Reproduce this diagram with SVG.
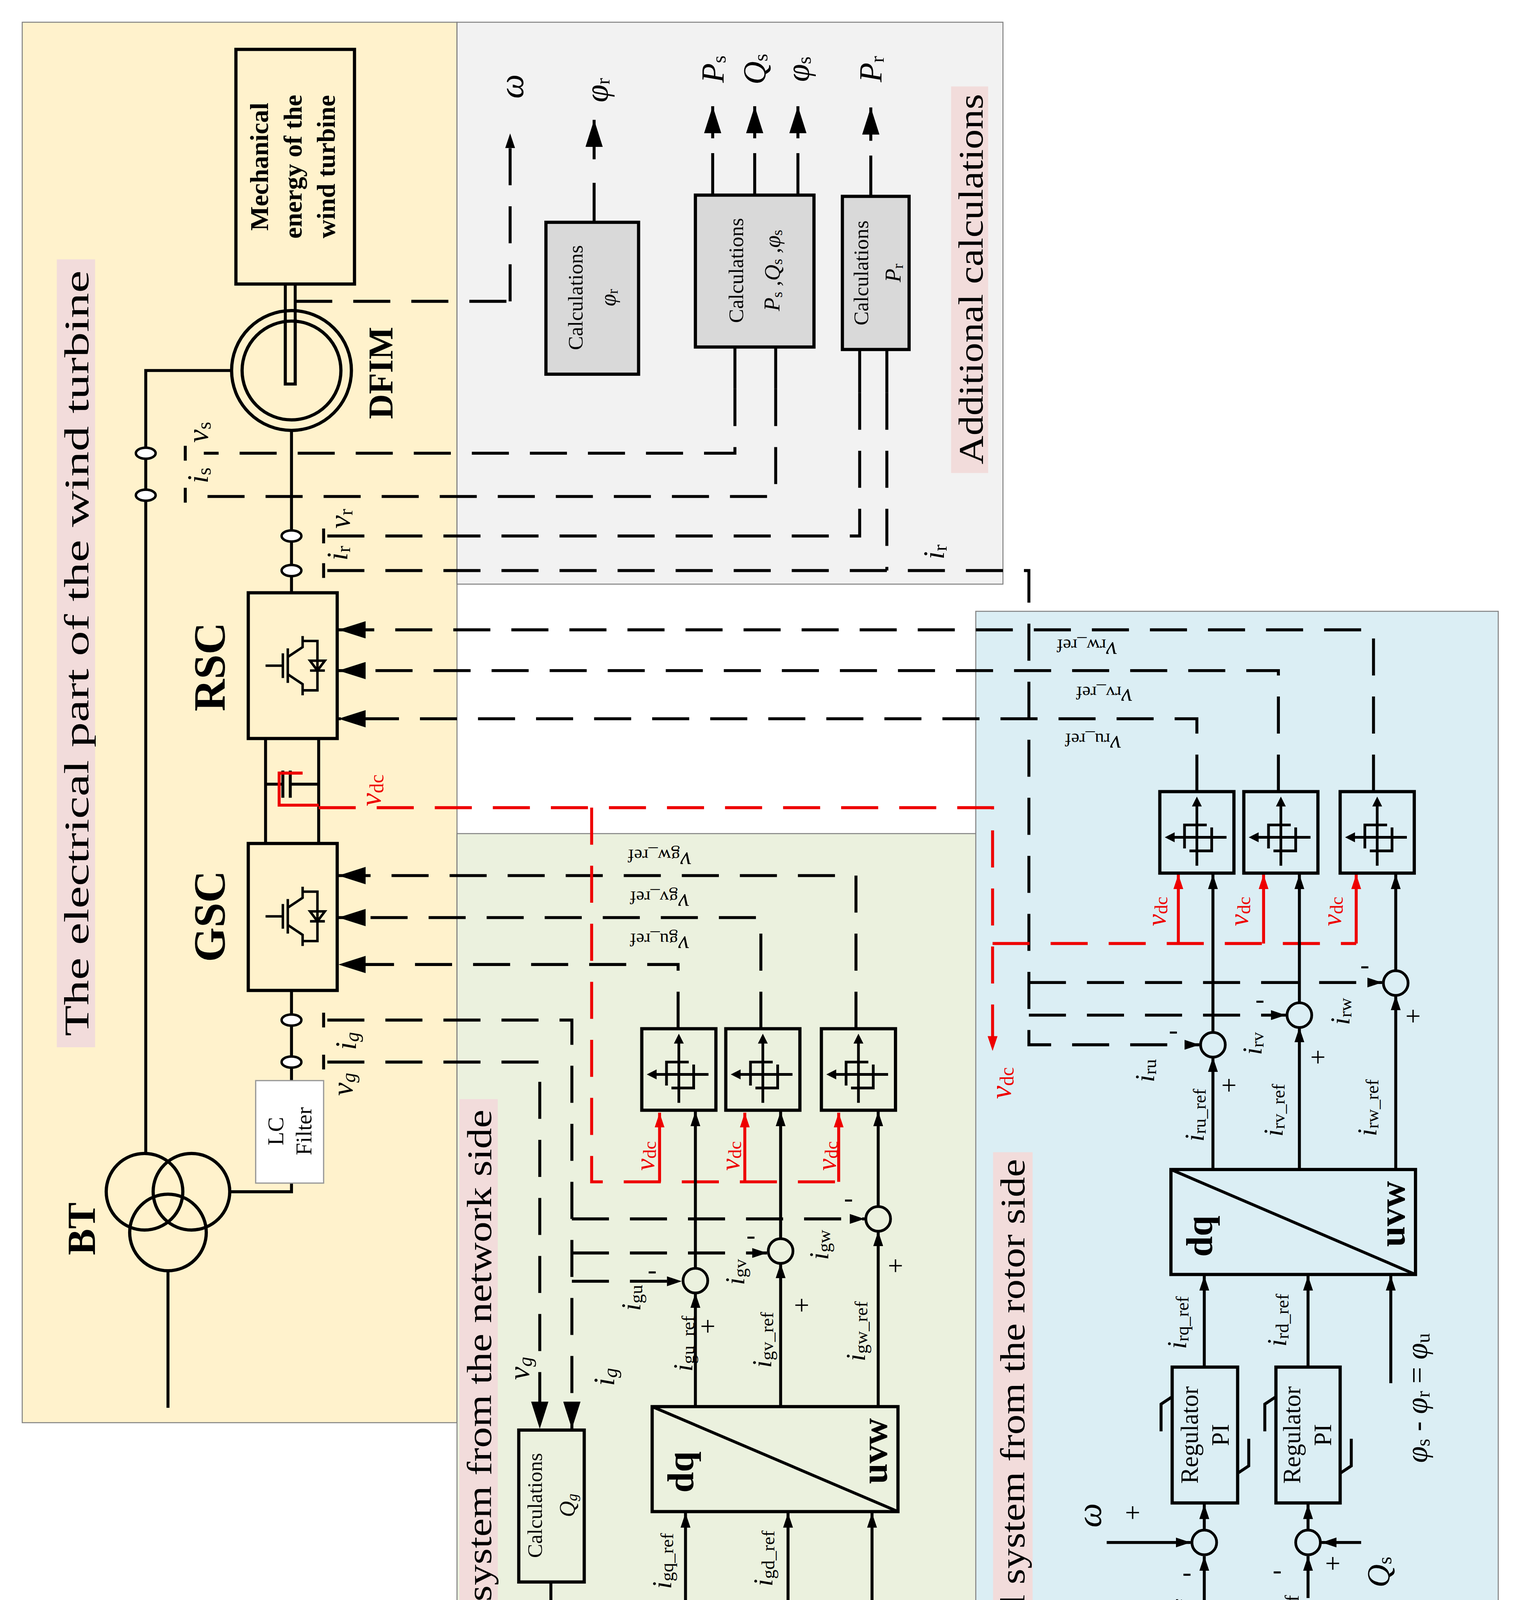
<svg xmlns="http://www.w3.org/2000/svg" width="3888" height="4958" viewBox="0 0 3888 4958">
<style>
.p{fill:none;stroke:#000;stroke-width:2.4}
.d{fill:none;stroke:#000;stroke-width:2.4;stroke-dasharray:30 17}
.rd{fill:none;stroke:#e00;stroke-width:2.4;stroke-dasharray:30 17}
.rs{fill:none;stroke:#e00;stroke-width:2.4}
.bx{fill:none;stroke:#000;stroke-width:2.6}
.gb{fill:#d9d9d9;stroke:#000;stroke-width:2.6}
.pan{stroke:#808080;stroke-width:0.8}
.t{font-family:"Liberation Serif",serif;text-anchor:middle;dominant-baseline:central;fill:#000}
.i{font-style:italic}
.b{font-weight:bold}
.red{fill:#e00}
.sum{fill:none;stroke:#000;stroke-width:2.2}
</style>
<defs>
<marker id="A" viewBox="0 0 22 14" refX="22" refY="7" markerWidth="22" markerHeight="14" markerUnits="userSpaceOnUse" orient="auto"><path d="M0,0 L22,7 L0,14z" fill="#000"/></marker>
<marker id="a" viewBox="0 0 12 8" refX="12" refY="4" markerWidth="12" markerHeight="8" markerUnits="userSpaceOnUse" orient="auto"><path d="M0,0 L12,4 L0,8z" fill="#000"/></marker>
<marker id="r" viewBox="0 0 12 8" refX="12" refY="4" markerWidth="12" markerHeight="8" markerUnits="userSpaceOnUse" orient="auto"><path d="M0,0 L12,4 L0,8z" fill="#e00"/></marker>
<g id="hys">
<rect x="0" y="0" width="60" height="66" fill="none" stroke="#000" stroke-width="2.6"/>
<path d="M30,60 V10 M54,37 H10 M20,46 V27 H38 M24,48 H42 V29" fill="none" stroke="#000" stroke-width="2.2"/>
<path d="M26,12 L30,4 L34,12z M12,33 L4,37 L12,41z" fill="#000"/>
</g>
<g id="igbt">
<path d="M-22,0 H-8 M-8,-10 V10 M-4,-14 V14 M-4,-7 L8,-15 V-24 M-4,7 L8,15 V24 M8,-20 H20 V20 H8 M14,-4 L20,4 L26,-4z M14,4 H26" fill="none" stroke="#000" stroke-width="2"/>
</g>
</defs>
<g transform="scale(3.1615)">
<g id="panels">
<rect class="pan" x="18" y="18" width="352" height="1134" fill="#fff2cc"/>
<rect class="pan" x="370" y="18" width="442" height="455" fill="#f2f2f2"/>
<rect class="pan" x="370" y="675" width="423" height="878" fill="#ebf1de"/>
<rect class="pan" x="790" y="495" width="423" height="1057" fill="#dbeef4"/>
<rect x="46" y="210" width="31" height="638" fill="#f2dcdb"/>
<rect x="770" y="70" width="30" height="313" fill="#f2dcdb"/>
<rect x="372" y="890" width="31" height="662" fill="#f2dcdb"/>
<rect x="804" y="933" width="32" height="597" fill="#f2dcdb"/>
<text class="t" font-size="28" textLength="620" lengthAdjust="spacingAndGlyphs" transform="translate(62,529) rotate(-90)">The electrical part of the wind turbine</text>
<text class="t" font-size="28" textLength="300" lengthAdjust="spacingAndGlyphs" transform="translate(786,226) rotate(-90)">Additional calculations</text>
<text class="t" font-size="28" textLength="645" lengthAdjust="spacingAndGlyphs" transform="translate(388,1221) rotate(-90)">Converter control system from the network side</text>
<text class="t" font-size="28" textLength="585" lengthAdjust="spacingAndGlyphs" transform="translate(820,1231) rotate(-90)">Converter control system from the rotor side</text>
</g>

<g id="connectors">
<!-- power circuit -->
<path class="p" d="M188,300 H118 V934 M236,349 V480 M215,598 V683 M258,598 V683 M236,802 V875 M236,958 V965 H186 M136,1029 V1140"/>
<path class="p" d="M231,230 V311 H239 V230"/>
<path class="p" d="M215,635 H229 M229,624 V646 M235,624 V646 M235,635 H258"/>
<path class="rs" d="M245,626 H226 V652 H258"/>
<!-- sensors -->
<ellipse cx="118" cy="367" rx="8" ry="4.5" fill="#fff" stroke="#000" stroke-width="2"/>
<ellipse cx="118" cy="401" rx="8" ry="4.5" fill="#fff" stroke="#000" stroke-width="2"/>
<ellipse cx="236" cy="434" rx="8" ry="4.5" fill="#fff" stroke="#000" stroke-width="2"/>
<ellipse cx="236" cy="462" rx="8" ry="4.5" fill="#fff" stroke="#000" stroke-width="2"/>
<ellipse cx="236" cy="826" rx="8" ry="4.5" fill="#fff" stroke="#000" stroke-width="2"/>
<ellipse cx="236" cy="860" rx="8" ry="4.5" fill="#fff" stroke="#000" stroke-width="2"/>
<path class="p" stroke-width="1.6" d="M150,361 V373 M150,395 V407 M262,428 V440 M262,456 V468 M262,820 V832 M262,854 V866"/>
<!-- additional calc -->
<path class="d" d="M239,244 H424"/>
<path class="d" d="M413,244 V108" marker-end="url(#a)"/>
<path class="p" d="M481,180 V148"/><path class="p" d="M481,129 V97" marker-end="url(#A)"/>
<path class="p" d="M577,158 V124 M611,158 V124 M646,158 V124 M705,159 V126"/>
<path class="p" d="M577,112 V86" marker-end="url(#A)"/>
<path class="p" d="M611,112 V86" marker-end="url(#A)"/>
<path class="p" d="M646,112 V86" marker-end="url(#A)"/>
<path class="p" d="M705,114 V87" marker-end="url(#A)"/>
<path class="p" d="M595,281 V315 M628,281 V315 M696,283 V318 M718,283 V318"/>
<path class="d" d="M595,315 V367 H165 M628,315 V402 H165 M696,318 V434 H265 M718,318 V462"/>
<path class="d" d="M265,462 H833 V846 H971" marker-end="url(#a)"/>
<path class="d" d="M833,795.6 H1119" marker-end="url(#a)"/>
<path class="d" d="M833,822 H1041" marker-end="url(#a)"/>
<!-- RSC inputs -->
<path class="d" d="M969,641 V582 H274" marker-end="url(#A)"/>
<path class="d" d="M1035,641 V543 H274" marker-end="url(#A)"/>
<path class="d" d="M1112,641 V510 H274" marker-end="url(#A)"/>
<!-- GSC inputs -->
<path class="d" d="M549,833 V781 H274" marker-end="url(#A)"/>
<path class="d" d="M616,833 V743 H274" marker-end="url(#A)"/>
<path class="d" d="M693,833 V709 H274" marker-end="url(#A)"/>
<!-- grid sensors -->
<path class="d" d="M265,826 H463 V1157" marker-end="url(#A)"/>
<path class="d" d="M265,860 H437 V1157" marker-end="url(#A)"/>
<path class="d" d="M463,987 H700" marker-end="url(#a)"/>
<path class="d" d="M463,1014.6 H621" marker-end="url(#a)"/>
<path class="d" d="M463,1037.5 H552" marker-end="url(#a)"/>
<!-- red vdc -->
<path class="rd" d="M258,654 H803.6 V851" marker-end="url(#r)"/>
<path class="rd" d="M479,654 V957 H679"/>
<path class="rs" d="M534,957 V901" marker-end="url(#r)"/>
<path class="rs" d="M603,957 V901" marker-end="url(#r)"/>
<path class="rs" d="M679,957 V901" marker-end="url(#r)"/>
<path class="rd" d="M803.6,764 H1098"/>
<path class="rs" d="M954,764 V708" marker-end="url(#r)"/>
<path class="rs" d="M1023,764 V708" marker-end="url(#r)"/>
<path class="rs" d="M1098,764 V708" marker-end="url(#r)"/>
<!-- green signal chain -->
<path class="p" d="M563,1027 V900" marker-end="url(#a)"/>
<path class="p" d="M632,1003 V900" marker-end="url(#a)"/>
<path class="p" d="M711,977 V900" marker-end="url(#a)"/>
<path class="p" d="M563,1139 V1047" marker-end="url(#a)"/>
<path class="p" d="M632,1139 V1023" marker-end="url(#a)"/>
<path class="p" d="M711,1139 V997" marker-end="url(#a)"/>
<path class="p" d="M555,1300 V1225" marker-end="url(#a)"/>
<path class="p" d="M638,1300 V1225" marker-end="url(#a)"/>
<path class="p" d="M706,1314 V1225" marker-end="url(#a)"/>
<path class="p" d="M555,1431 V1411" marker-end="url(#a)"/>
<path class="p" d="M638,1431 V1411" marker-end="url(#a)"/>
<path class="p" d="M555,1487 V1451" marker-end="url(#a)"/>
<path class="p" d="M638,1487 V1451" marker-end="url(#a)"/>
<path class="p" d="M598,1441 H565" marker-end="url(#a)"/>
<path class="p" d="M681,1441 H648" marker-end="url(#a)"/>
<path class="p" d="M446,1281 V1314"/><path class="p" d="M446,1331 V1390" marker-end="url(#A)"/>
<!-- rotor signal chain -->
<path class="p" d="M982,836 V708" marker-end="url(#a)"/>
<path class="p" d="M1052,812 V708" marker-end="url(#a)"/>
<path class="p" d="M1130,786 V708" marker-end="url(#a)"/>
<path class="p" d="M982,947 V856" marker-end="url(#a)"/>
<path class="p" d="M1052,947 V832" marker-end="url(#a)"/>
<path class="p" d="M1130,947 V806" marker-end="url(#a)"/>
<path class="p" d="M975,1107 V1033" marker-end="url(#a)"/>
<path class="p" d="M1059,1107 V1033" marker-end="url(#a)"/>
<path class="p" d="M1126,1120 V1033" marker-end="url(#a)"/>
<path class="p" d="M975,1239 V1218" marker-end="url(#a)"/>
<path class="p" d="M1059,1239 V1218" marker-end="url(#a)"/>
<path class="p" d="M975,1359 V1260" marker-end="url(#a)"/>
<path class="p" d="M1059,1294 V1260" marker-end="url(#a)"/>
<path class="p" d="M896,1249 H964" marker-end="url(#a)"/>
<path class="p" d="M1102,1249 H1070" marker-end="url(#a)"/>
<path class="p" d="M975,1541 V1470" marker-end="url(#a)"/>
</g>

<g id="mech"><rect class="bx" x="191" y="40" width="96" height="190" fill="none"/>
<text class="t b" font-size="21" transform="translate(210,135) rotate(-90)">Mechanical</text>
<text class="t b" font-size="21" transform="translate(237,135) rotate(-90)">energy of the</text>
<text class="t b" font-size="21" transform="translate(264,135) rotate(-90)">wind turbine</text></g>

<g id="dfim"><circle cx="236" cy="300" r="48.5" fill="none" stroke="#000" stroke-width="2.6"/>
<circle cx="236" cy="300" r="40" fill="none" stroke="#000" stroke-width="2.6"/>
<path class="p" d="M231,258 V311 H239 V258"/>
<text class="t b" font-size="28" transform="translate(308,302) rotate(-90)">DFIM</text></g>

<g id="rsc"><rect class="bx" x="201" y="480" width="72" height="118"/>
<use href="#igbt" transform="translate(237,539)"/>
<text class="t b" font-size="36" transform="translate(170,540) rotate(-90)">RSC</text></g>
<g id="gsc"><rect class="bx" x="201" y="683" width="72" height="119"/>
<use href="#igbt" transform="translate(237,742)"/>
<text class="t b" font-size="36" transform="translate(170,742) rotate(-90)">GSC</text></g>

<g id="filter"><rect x="207" y="875" width="55" height="83" fill="#fff" stroke="#999" stroke-width="1"/>
<text class="t" font-size="18" transform="translate(223,916) rotate(-90)">LC</text>
<text class="t" font-size="18" transform="translate(246,916) rotate(-90)">Filter</text></g>

<g id="bt"><circle cx="117" cy="965" r="31" class="bx"/><circle cx="155" cy="965" r="31" class="bx"/><circle cx="136" cy="998" r="31" class="bx"/>
<text class="t b" font-size="32" transform="translate(66,995) rotate(-90)">BT</text></g>

<g id="labels-left">
<text class="t i" font-size="24" transform="translate(160,350) rotate(-90)">v<tspan font-style="normal" font-size="16" dy="5">s</tspan></text>
<text class="t i" font-size="24" transform="translate(160,385) rotate(-90)">i<tspan font-style="normal" font-size="16" dy="5">s</tspan></text>
<text class="t i" font-size="24" transform="translate(275,420) rotate(-90)">v<tspan font-style="normal" font-size="16" dy="5">r</tspan></text>
<text class="t i" font-size="24" transform="translate(273,448) rotate(-90)">i<tspan font-style="normal" font-size="16" dy="5">r</tspan></text>
<text class="t i red" font-size="24" transform="translate(300,640) rotate(-90)">v<tspan font-style="normal" font-size="16" dy="5">dc</tspan></text>
<text class="t i" font-size="24" transform="translate(280,843) rotate(-90)">i<tspan font-size="16" dy="5">g</tspan></text>
<text class="t i" font-size="24" transform="translate(277,878) rotate(-90)">v<tspan font-size="16" dy="5">g</tspan></text>
</g>

<g id="calc-phir"><rect class="gb" x="442" y="180" width="75" height="123"/>
<text class="t" font-size="17" transform="translate(466,241) rotate(-90)">Calculations</text>
<text class="t i" font-size="18" transform="translate(492,241) rotate(-90)">φ<tspan font-style="normal" font-size="12" dy="4">r</tspan></text></g>
<g id="calc-ps"><rect class="gb" x="563" y="158" width="96" height="123"/>
<text class="t" font-size="17" transform="translate(596,219) rotate(-90)">Calculations</text>
<text class="t i" font-size="18" transform="translate(625,219) rotate(-90)">P<tspan font-style="normal" font-size="12" dy="4">s</tspan><tspan dy="-4"> ,Q</tspan><tspan font-style="normal" font-size="12" dy="4">s</tspan><tspan dy="-4"> ,φ</tspan><tspan font-style="normal" font-size="12" dy="4">s</tspan></text></g>
<g id="calc-pr"><rect class="gb" x="682" y="159" width="54" height="124"/>
<text class="t" font-size="17" transform="translate(697,221) rotate(-90)">Calculations</text>
<text class="t i" font-size="18" transform="translate(723,221) rotate(-90)">P<tspan font-style="normal" font-size="12" dy="4">r</tspan></text></g>
<g id="labels-top">
<text class="t i" font-size="28" transform="translate(414,70) rotate(-90)">ω</text>
<text class="t i" font-size="26" transform="translate(483,73) rotate(-90)">φ<tspan font-style="normal" font-size="16" dy="5">r</tspan></text>
<text class="t i" font-size="26" transform="translate(577,56) rotate(-90)">P<tspan font-style="normal" font-size="16" dy="5">s</tspan></text>
<text class="t i" font-size="26" transform="translate(611,56) rotate(-90)">Q<tspan font-style="normal" font-size="16" dy="5">s</tspan></text>
<text class="t i" font-size="26" transform="translate(646,56) rotate(-90)">φ<tspan font-style="normal" font-size="16" dy="5">s</tspan></text>
<text class="t i" font-size="26" transform="translate(705,56) rotate(-90)">P<tspan font-style="normal" font-size="16" dy="5">r</tspan></text>
<text class="t i" font-size="24" transform="translate(756,447) rotate(-90)">i<tspan font-style="normal" font-size="16" dy="5">r</tspan></text>
</g>

<g id="hys-g"><use href="#hys" transform="translate(519.6,833)"/><use href="#hys" transform="translate(587.6,833)"/><use href="#hys" transform="translate(665,833)"/></g>
<g id="hys-r"><use href="#hys" transform="translate(939,641)"/><use href="#hys" transform="translate(1007,641)"/><use href="#hys" transform="translate(1085,641)"/></g>

<g id="refs-upside">
<text class="t i" font-size="20" transform="translate(534,697) rotate(180)">v<tspan font-style="normal" font-size="15" dy="4">gw_ref</tspan></text>
<text class="t i" font-size="20" transform="translate(534,731) rotate(180)">v<tspan font-style="normal" font-size="15" dy="4">gv_ref</tspan></text>
<text class="t i" font-size="20" transform="translate(534,765) rotate(180)">v<tspan font-style="normal" font-size="15" dy="4">gu_ref</tspan></text>
<text class="t i" font-size="20" transform="translate(880,527) rotate(180)">v<tspan font-style="normal" font-size="15" dy="4">rw_ref</tspan></text>
<text class="t i" font-size="20" transform="translate(894,565) rotate(180)">v<tspan font-style="normal" font-size="15" dy="4">rv_ref</tspan></text>
<text class="t i" font-size="20" transform="translate(885,603) rotate(180)">v<tspan font-style="normal" font-size="15" dy="4">ru_ref</tspan></text>
</g>

<g id="vdc-red">
<text class="t i red" font-size="22" transform="translate(522,936) rotate(-90)">v<tspan font-style="normal" font-size="15" dy="4">dc</tspan></text>
<text class="t i red" font-size="22" transform="translate(591,936) rotate(-90)">v<tspan font-style="normal" font-size="15" dy="4">dc</tspan></text>
<text class="t i red" font-size="22" transform="translate(669,936) rotate(-90)">v<tspan font-style="normal" font-size="15" dy="4">dc</tspan></text>
<text class="t i red" font-size="22" transform="translate(936,738) rotate(-90)">v<tspan font-style="normal" font-size="15" dy="4">dc</tspan></text>
<text class="t i red" font-size="22" transform="translate(1003,738) rotate(-90)">v<tspan font-style="normal" font-size="15" dy="4">dc</tspan></text>
<text class="t i red" font-size="22" transform="translate(1078,738) rotate(-90)">v<tspan font-style="normal" font-size="15" dy="4">dc</tspan></text>
<text class="t i red" font-size="24" transform="translate(810,877) rotate(-90)">v<tspan font-style="normal" font-size="16" dy="5">dc</tspan></text>
</g>

<g id="summers">
<circle class="sum" cx="563" cy="1037" r="10"/><circle class="sum" cx="632" cy="1013" r="10"/><circle class="sum" cx="711" cy="987" r="10"/>
<circle class="sum" cx="982" cy="846" r="10"/><circle class="sum" cx="1052" cy="822" r="10"/><circle class="sum" cx="1130" cy="796" r="10"/>
<circle class="sum" cx="555" cy="1441" r="10"/><circle class="sum" cx="638" cy="1441" r="10"/>
<circle class="sum" cx="975" cy="1249" r="10"/><circle class="sum" cx="1059" cy="1249" r="10"/>
</g>

<g id="signs" font-family="Liberation Serif" font-size="22" text-anchor="middle" dominant-baseline="central">
<text x="573" y="1074">+</text><text x="649" y="1057">+</text><text x="725" y="1025">+</text>
<text x="528" y="1028">-</text><text x="608" y="1000">-</text><text x="687" y="970">-</text>
<text x="995" y="879">+</text><text x="1067" y="856">+</text><text x="1144" y="823">+</text>
<text x="950" y="834">-</text><text x="1020" y="809">-</text><text x="1105" y="781">-</text>
<text x="570" y="1456">+</text><text x="545" y="1456">-</text><text x="624" y="1454">+</text><text x="652" y="1452">-</text>
<text x="917" y="1225">+</text><text x="961" y="1273">-</text><text x="1079" y="1266">+</text><text x="1034" y="1271">-</text>
</g>

<g id="labels-green">
<text class="t i" font-size="22" transform="translate(511,1051) rotate(-90)">i<tspan font-style="normal" font-size="15" dy="4">gu</tspan></text>
<text class="t i" font-size="22" transform="translate(595,1030) rotate(-90)">i<tspan font-style="normal" font-size="15" dy="4">gv</tspan></text>
<text class="t i" font-size="22" transform="translate(663,1008) rotate(-90)">i<tspan font-style="normal" font-size="15" dy="4">gw</tspan></text>
<text class="t i" font-size="22" transform="translate(553,1088) rotate(-90)">i<tspan font-style="normal" font-size="15" dy="4">gu_ref</tspan></text>
<text class="t i" font-size="22" transform="translate(617,1085) rotate(-90)">i<tspan font-style="normal" font-size="15" dy="4">gv_ref</tspan></text>
<text class="t i" font-size="22" transform="translate(693,1078) rotate(-90)">i<tspan font-style="normal" font-size="15" dy="4">gw_ref</tspan></text>
<text class="t i" font-size="22" transform="translate(536,1264) rotate(-90)">i<tspan font-style="normal" font-size="15" dy="4">gq_ref</tspan></text>
<text class="t i" font-size="22" transform="translate(618,1262) rotate(-90)">i<tspan font-style="normal" font-size="15" dy="4">gd_ref</tspan></text>
<text class="t i" font-size="24" transform="translate(691,1316) rotate(-90)">φ<tspan font-style="normal" font-size="16" dy="5">s</tspan></text>
<text class="t i" font-size="24" transform="translate(420,1108) rotate(-90)">v<tspan font-size="16" dy="5">g</tspan></text>
<text class="t i" font-size="24" transform="translate(489,1115) rotate(-90)">i<tspan font-size="16" dy="5">g</tspan></text>
<text class="t i" font-size="26" transform="translate(424,1413) rotate(-90)">Q<tspan font-size="16" dy="5">g</tspan></text>
<text class="t i" font-size="22" transform="translate(536,1502) rotate(-90)">v<tspan font-style="normal" font-size="15" dy="4">dc_ref</tspan></text>
<text class="t i red" font-size="22" transform="translate(587,1470) rotate(-90)">v<tspan font-style="normal" font-size="15" dy="4">dc</tspan></text>
<text class="t i" font-size="24" transform="translate(674,1461) rotate(-90)">Q<tspan font-size="16" dy="5">g</tspan></text>
<text class="t i" font-size="24" transform="translate(618,1498) rotate(-90)">Q<tspan font-style="normal" font-size="15" dy="4">g_ref</tspan></text>
</g>

<g id="calc-qg"><rect class="gb" x="420" y="1158" width="53" height="123" fill="none" style="fill:none"/>
<text class="t" font-size="17" transform="translate(433,1219) rotate(-90)">Calculations</text>
<text class="t i" font-size="18" transform="translate(459,1219) rotate(-90)">Q<tspan font-size="12" dy="4">g</tspan></text></g>

<g id="dq-g"><rect class="bx" x="528" y="1139" width="199" height="85"/><path class="p" d="M528,1139 L727,1224"/>
<text class="t b" font-size="30" transform="translate(551,1192) rotate(-90)">dq</text>
<text class="t b" font-size="30" transform="translate(708,1175) rotate(-90)">uvw</text></g>
<g id="dq-r"><rect class="bx" x="948" y="947" width="198" height="85"/><path class="p" d="M948,947 L1146,1032"/>
<text class="t b" font-size="30" transform="translate(971,1001) rotate(-90)">dq</text>
<text class="t b" font-size="30" transform="translate(1127,983) rotate(-90)">uvw</text></g>

<g id="reg-g1"><rect class="bx" x="530" y="1300" width="51" height="110"/>
<path class="p" stroke-width="1.6" d="M521,1352 V1330 L530,1324 M590,1358 V1380 L581,1386"/>
<text class="t" font-size="20" transform="translate(543,1355) rotate(-90)">Regulator</text>
<text class="t" font-size="20" transform="translate(567,1355) rotate(-90)">PI</text></g>
<g id="reg-g2"><rect class="bx" x="612" y="1300" width="53" height="110"/>
<path class="p" stroke-width="1.6" d="M603,1352 V1330 L612,1324 M674,1358 V1380 L665,1386"/>
<text class="t" font-size="20" transform="translate(626,1355) rotate(-90)">Regulator</text>
<text class="t" font-size="20" transform="translate(651,1355) rotate(-90)">PI</text></g>
<g id="reg-r1"><rect class="bx" x="949" y="1107" width="53" height="110"/>
<path class="p" stroke-width="1.6" d="M940,1159 V1137 L949,1131 M1011,1165 V1187 L1002,1193"/>
<text class="t" font-size="20" transform="translate(963,1162) rotate(-90)">Regulator</text>
<text class="t" font-size="20" transform="translate(988,1162) rotate(-90)">PI</text></g>
<g id="reg-r2"><rect class="bx" x="1033" y="1107" width="52" height="110"/>
<path class="p" stroke-width="1.6" d="M1024,1159 V1137 L1033,1131 M1094,1165 V1187 L1085,1193"/>
<text class="t" font-size="20" transform="translate(1046,1162) rotate(-90)">Regulator</text>
<text class="t" font-size="20" transform="translate(1071,1162) rotate(-90)">PI</text></g>

<g id="p-omega"><rect class="bx" x="945" y="1359" width="59" height="110"/>
<text class="t i" font-size="26" transform="translate(977,1414) rotate(-90)">P <tspan font-style="normal">→</tspan> ω</text></g>

<g id="labels-rotor">
<text class="t i" font-size="22" transform="translate(927,867) rotate(-90)">i<tspan font-style="normal" font-size="15" dy="4">ru</tspan></text>
<text class="t i" font-size="22" transform="translate(1014,845) rotate(-90)">i<tspan font-style="normal" font-size="15" dy="4">rv</tspan></text>
<text class="t i" font-size="22" transform="translate(1085,819) rotate(-90)">i<tspan font-style="normal" font-size="15" dy="4">rw</tspan></text>
<text class="t i" font-size="22" transform="translate(967,903) rotate(-90)">i<tspan font-style="normal" font-size="15" dy="4">ru_ref</tspan></text>
<text class="t i" font-size="22" transform="translate(1031,899) rotate(-90)">i<tspan font-style="normal" font-size="15" dy="4">rv_ref</tspan></text>
<text class="t i" font-size="22" transform="translate(1107,897) rotate(-90)">i<tspan font-style="normal" font-size="15" dy="4">rw_ref</tspan></text>
<text class="t i" font-size="22" transform="translate(953,1071) rotate(-90)">i<tspan font-style="normal" font-size="15" dy="4">rq_ref</tspan></text>
<text class="t i" font-size="22" transform="translate(1034,1069) rotate(-90)">i<tspan font-style="normal" font-size="15" dy="4">rd_ref</tspan></text>
<text class="t i" font-size="24" transform="translate(1147,1132) rotate(-90)">φ<tspan font-style="normal" font-size="16" dy="5">s</tspan><tspan font-style="normal" dy="-5"> - </tspan>φ<tspan font-style="normal" font-size="16" dy="5">r</tspan><tspan font-style="normal" dy="-5"> = </tspan>φ<tspan font-style="normal" font-size="16" dy="5">u</tspan></text>
<text class="t i" font-size="28" transform="translate(882,1227) rotate(-90)">ω</text>
<text class="t i" font-size="26" transform="translate(953,1317) rotate(-90)">ω<tspan font-style="normal" font-size="16" dy="5">_ref</tspan></text>
<text class="t i" font-size="26" transform="translate(1116,1273) rotate(-90)">Q<tspan font-style="normal" font-size="16" dy="5">s</tspan></text>
<text class="t i" font-size="26" transform="translate(1041,1317) rotate(-90)">Q<tspan font-style="normal" font-size="16" dy="5">s_ref</tspan></text>
<text class="t i" font-size="26" transform="translate(939,1512) rotate(-90)">P<tspan font-style="normal" font-size="16" dy="5">s_ref</tspan></text>
</g>
</g>
</svg>
